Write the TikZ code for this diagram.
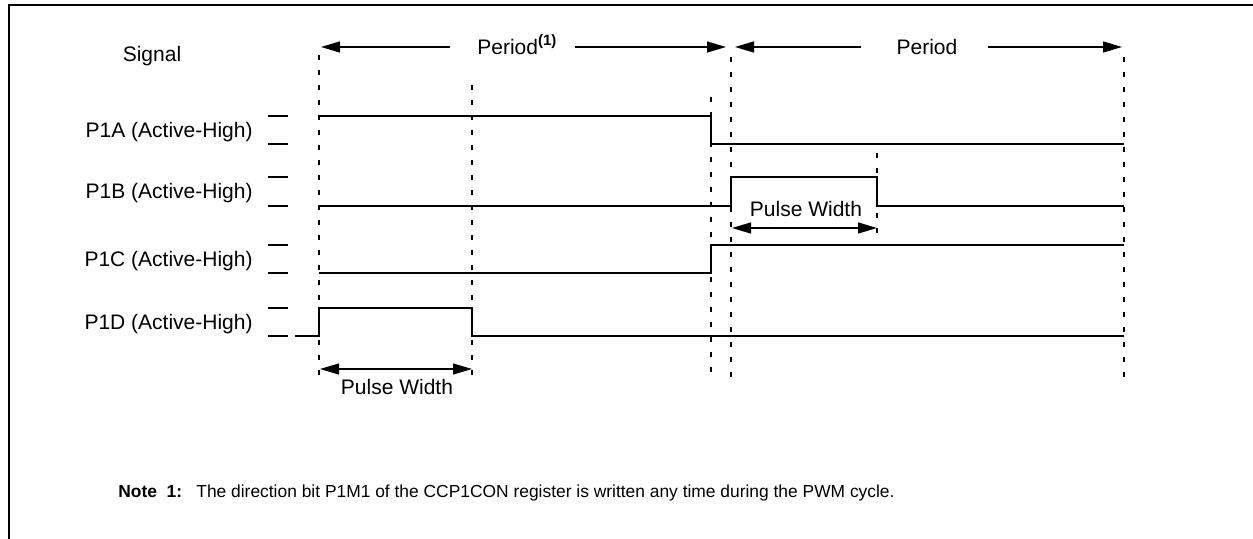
\documentclass[tikz,border=0pt]{standalone}
\usepackage{fontspec}
\setmainfont{Liberation Sans}
\usepackage{tikz}
\usetikzlibrary{positioning,arrows.meta}

\begin{document}
\begin{tikzpicture}[
  x=0.5pt, y=-0.5pt,
  lbl/.style={inner sep=0pt, font=\fontsize{10.5}{12.6}\selectfont},
  sig/.style={lbl, anchor=base east},
  notetext/.style={inner sep=0pt, anchor=base west, font=\fontsize{8.7}{10.4}\selectfont},
  frame/.style={line width=0.9pt},
  wave/.style={line width=0.7pt},
  lvl/.style={line width=0.7pt},
  guide/.style={line width=0.75pt, dash pattern=on 2.5pt off 5pt},
  arr/.style={-{Triangle[length=9.5pt,width=5.5pt]}, line width=0.7pt},
  dim/.style={{Triangle[length=9.5pt,width=5.5pt]}-{Triangle[length=9.5pt,width=5.5pt]}, line width=0.7pt}
]
\useasboundingbox (0,0) rectangle (1253,539);
\draw[frame] (9,539) -- (9,5) -- (1253,5);

% signal names and level marks
\node[lbl, anchor=base] (signal) at (152,62) {Signal};
\node[sig] (p1a) at (253,137.5) {P1A (Active-High)};
\node[sig] (p1b) at (253,199) {P1B (Active-High)};
\node[sig] (p1c) at (253,266.5) {P1C (Active-High)};
\node[sig] (p1d) at (253,329.5) {P1D (Active-High)};
\foreach \hi/\lo in {116/144, 177/206, 245/273, 308/336} {
  \draw[lvl] (268,\hi) -- (288,\hi);
  \draw[lvl] (268,\lo) -- (288,\lo);
}

% timing guides
\draw[guide] (319,55) -- (319,380);
\draw[guide] (472,85) -- (472,380);
\draw[guide] (711,97) -- (711,380);
\draw[guide] (731,57) -- (731,380);
\draw[guide] (877,153) -- (877,235);
\draw[guide] (1124,57) -- (1124,377);

% waveforms
\draw[wave] (319,116) -- (711,116) -- (711,144) -- (1124,144);
\draw[wave] (319,206) -- (731,206) -- (731,177) -- (877,177) -- (877,206) -- (1124,206);
\draw[wave] (319,273) -- (711,273) -- (711,245) -- (1124,245);
\draw[wave] (295,336) -- (319,336) -- (319,308) -- (472,308) -- (472,336) -- (1124,336);

% period arrows
\node[lbl, anchor=base west] (per1) at (477,54.5) {Period\raisebox{0.8ex}{\fontsize{7.5}{9}\selectfont\bfseries(1)}};
\node[lbl, anchor=base] (per2) at (927,54.5) {Period};
\coordinate (a1) at (321,47);
\coordinate (a2) at (726,47);
\coordinate (a3) at (735,47);
\coordinate (a4) at (1122,47);
\draw[arr] ([xshift=-13.5pt]per1.west |- a1) -- (a1);
\draw[arr] ([xshift=9pt]per1.east |- a1) -- (a2);
\draw[arr] ([xshift=-17.5pt]per2.west |- a3) -- (a3);
\draw[arr] ([xshift=15pt]per2.east |- a3) -- (a4);

% pulse widths
\coordinate (w1) at (320,369);
\coordinate (w2) at (472,369);
\coordinate (w3) at (732,228);
\coordinate (w4) at (877,228);
\draw[dim] (w1) -- (w2);
\draw[dim] (w3) -- (w4);
\node[lbl, anchor=base] (pw1) at (397,395) {Pulse Width};
\node[lbl, anchor=base] (pw2) at (806,217) {Pulse Width};

% note
\node[notetext] (notehd) at (118,497) {\bfseries Note\ \ 1:};
\node[notetext] (note) at (196,497)
  {The direction bit P1M1 of the CCP1CON register is written any time during the PWM cycle.};
\end{tikzpicture}
\end{document}
